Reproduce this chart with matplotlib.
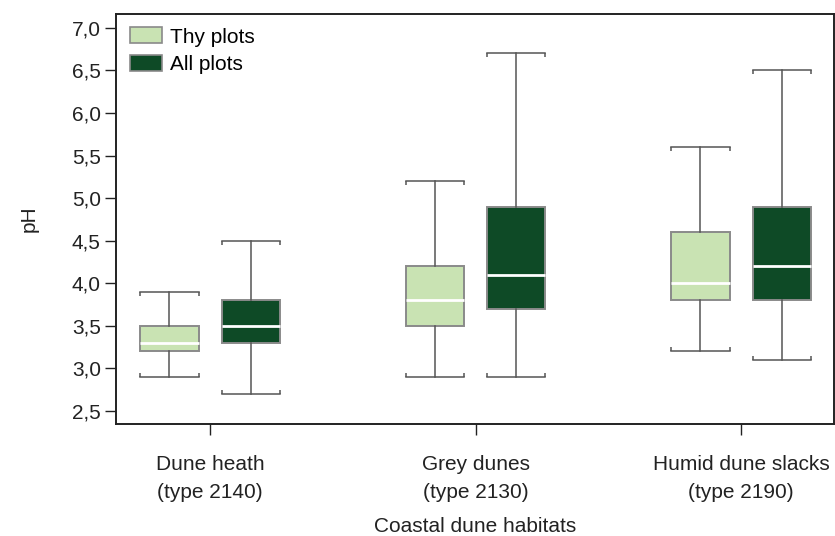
import matplotlib
matplotlib.use("Agg")
import matplotlib.pyplot as plt
from matplotlib.patches import Patch
from matplotlib.path import Path

plt.rcParams['font.family'] = ['Liberation Sans', 'DejaVu Sans']

# Habitat categories
categories = ["Dune heath\n(type 2140)", "Grey dunes\n(type 2130)", "Humid dune slacks\n(type 2190)"]
series = ["Thy plots", "All plots"]

# pH summaries per habitat: [lower whisker, Q1, median, Q3, upper whisker]
thy_low = [2.9, 2.9, 3.2]
thy_q1 = [3.2, 3.5, 3.8]
thy_med = [3.3, 3.8, 4.0]
thy_q3 = [3.5, 4.2, 4.6]
thy_high = [3.9, 5.2, 5.6]

all_low = [2.7, 2.9, 3.1]
all_q1 = [3.3, 3.7, 3.8]
all_med = [3.5, 4.1, 4.2]
all_q3 = [3.8, 4.9, 4.9]
all_high = [4.5, 6.7, 6.5]

yticks = [2.5, 3.0, 3.5, 4.0, 4.5, 5.0, 5.5, 6.0, 6.5, 7.0]

light = "#c9e3b3"
dark = "#0e4a26"
edge = "#8a8a8a"
whisk = "#555555"
txt = "#222222"
fs = 15

fig = plt.figure(figsize=(8.35, 5.36), dpi=100)
ax = fig.add_axes([0.139, 0.209, 0.8598, 0.765])

offset = 0.153
width = 0.219

groups = [
    (thy_low, thy_q1, thy_med, thy_q3, thy_high, light, -offset),
    (all_low, all_q1, all_med, all_q3, all_high, dark, offset),
]

# tick marks at cap ends pointing toward the box
down_tick = Path([(0, 0), (0, -1)], [Path.MOVETO, Path.LINETO])
up_tick = Path([(0, 0), (0, 1)], [Path.MOVETO, Path.LINETO])

for lo, q1, med, q3, hi, col, off in groups:
    stats = []
    for i in range(len(categories)):
        stats.append(dict(whislo=lo[i], q1=q1[i], med=med[i], q3=q3[i], whishi=hi[i], fliers=[]))
    pos = [i + off for i in range(len(categories))]
    ax.bxp(stats, positions=pos, widths=width, capwidths=width, patch_artist=True,
           showfliers=False, manage_ticks=False,
           boxprops=dict(facecolor=col, edgecolor=edge, linewidth=1.4),
           medianprops=dict(color="white", linewidth=2.0),
           whiskerprops=dict(color=whisk, linewidth=1.1),
           capprops=dict(color=whisk, linewidth=1.1),
           zorder=3)
    for p, l, h in zip(pos, lo, hi):
        xs = [p - width / 2, p + width / 2]
        ax.plot(xs, [h, h], linestyle="none", marker=down_tick, markersize=6,
                markeredgecolor=whisk, markeredgewidth=1.1, zorder=3)
        ax.plot(xs, [l, l], linestyle="none", marker=up_tick, markersize=6,
                markeredgecolor=whisk, markeredgewidth=1.1, zorder=3)

ax.set_xlim(-0.354, 2.35)
ax.set_ylim(2.347, 7.164)
ax.set_xticks(range(len(categories)))
ax.set_xticklabels(categories, fontsize=fs, color=txt, linespacing=1.65)
ax.set_yticks(yticks)
ax.set_yticklabels([f"{v:.1f}".replace(".", ",") for v in yticks], fontsize=fs, color=txt)
ax.tick_params(axis="both", length=8, width=1, color=txt, pad=3)
ax.tick_params(axis="x", pad=14)
for s in ax.spines.values():
    s.set_linewidth(1.4)
    s.set_color(txt)

ax.set_ylabel("pH", fontsize=fs, color=txt, labelpad=24)
ax.set_xlabel("Coastal dune habitats", fontsize=fs, color=txt, labelpad=10.5)

handles = [Patch(facecolor=light, edgecolor=edge, linewidth=1.2, label=series[0]),
           Patch(facecolor=dark, edgecolor=edge, linewidth=1.2, label=series[1])]
ax.legend(handles=handles, loc="upper left", frameon=False, fontsize=fs,
          handlelength=1.55, handleheight=0.8, handletextpad=0.4, labelspacing=0.4,
          borderaxespad=0.35, borderpad=0.3)

fig.savefig("out.png", dpi=100)
